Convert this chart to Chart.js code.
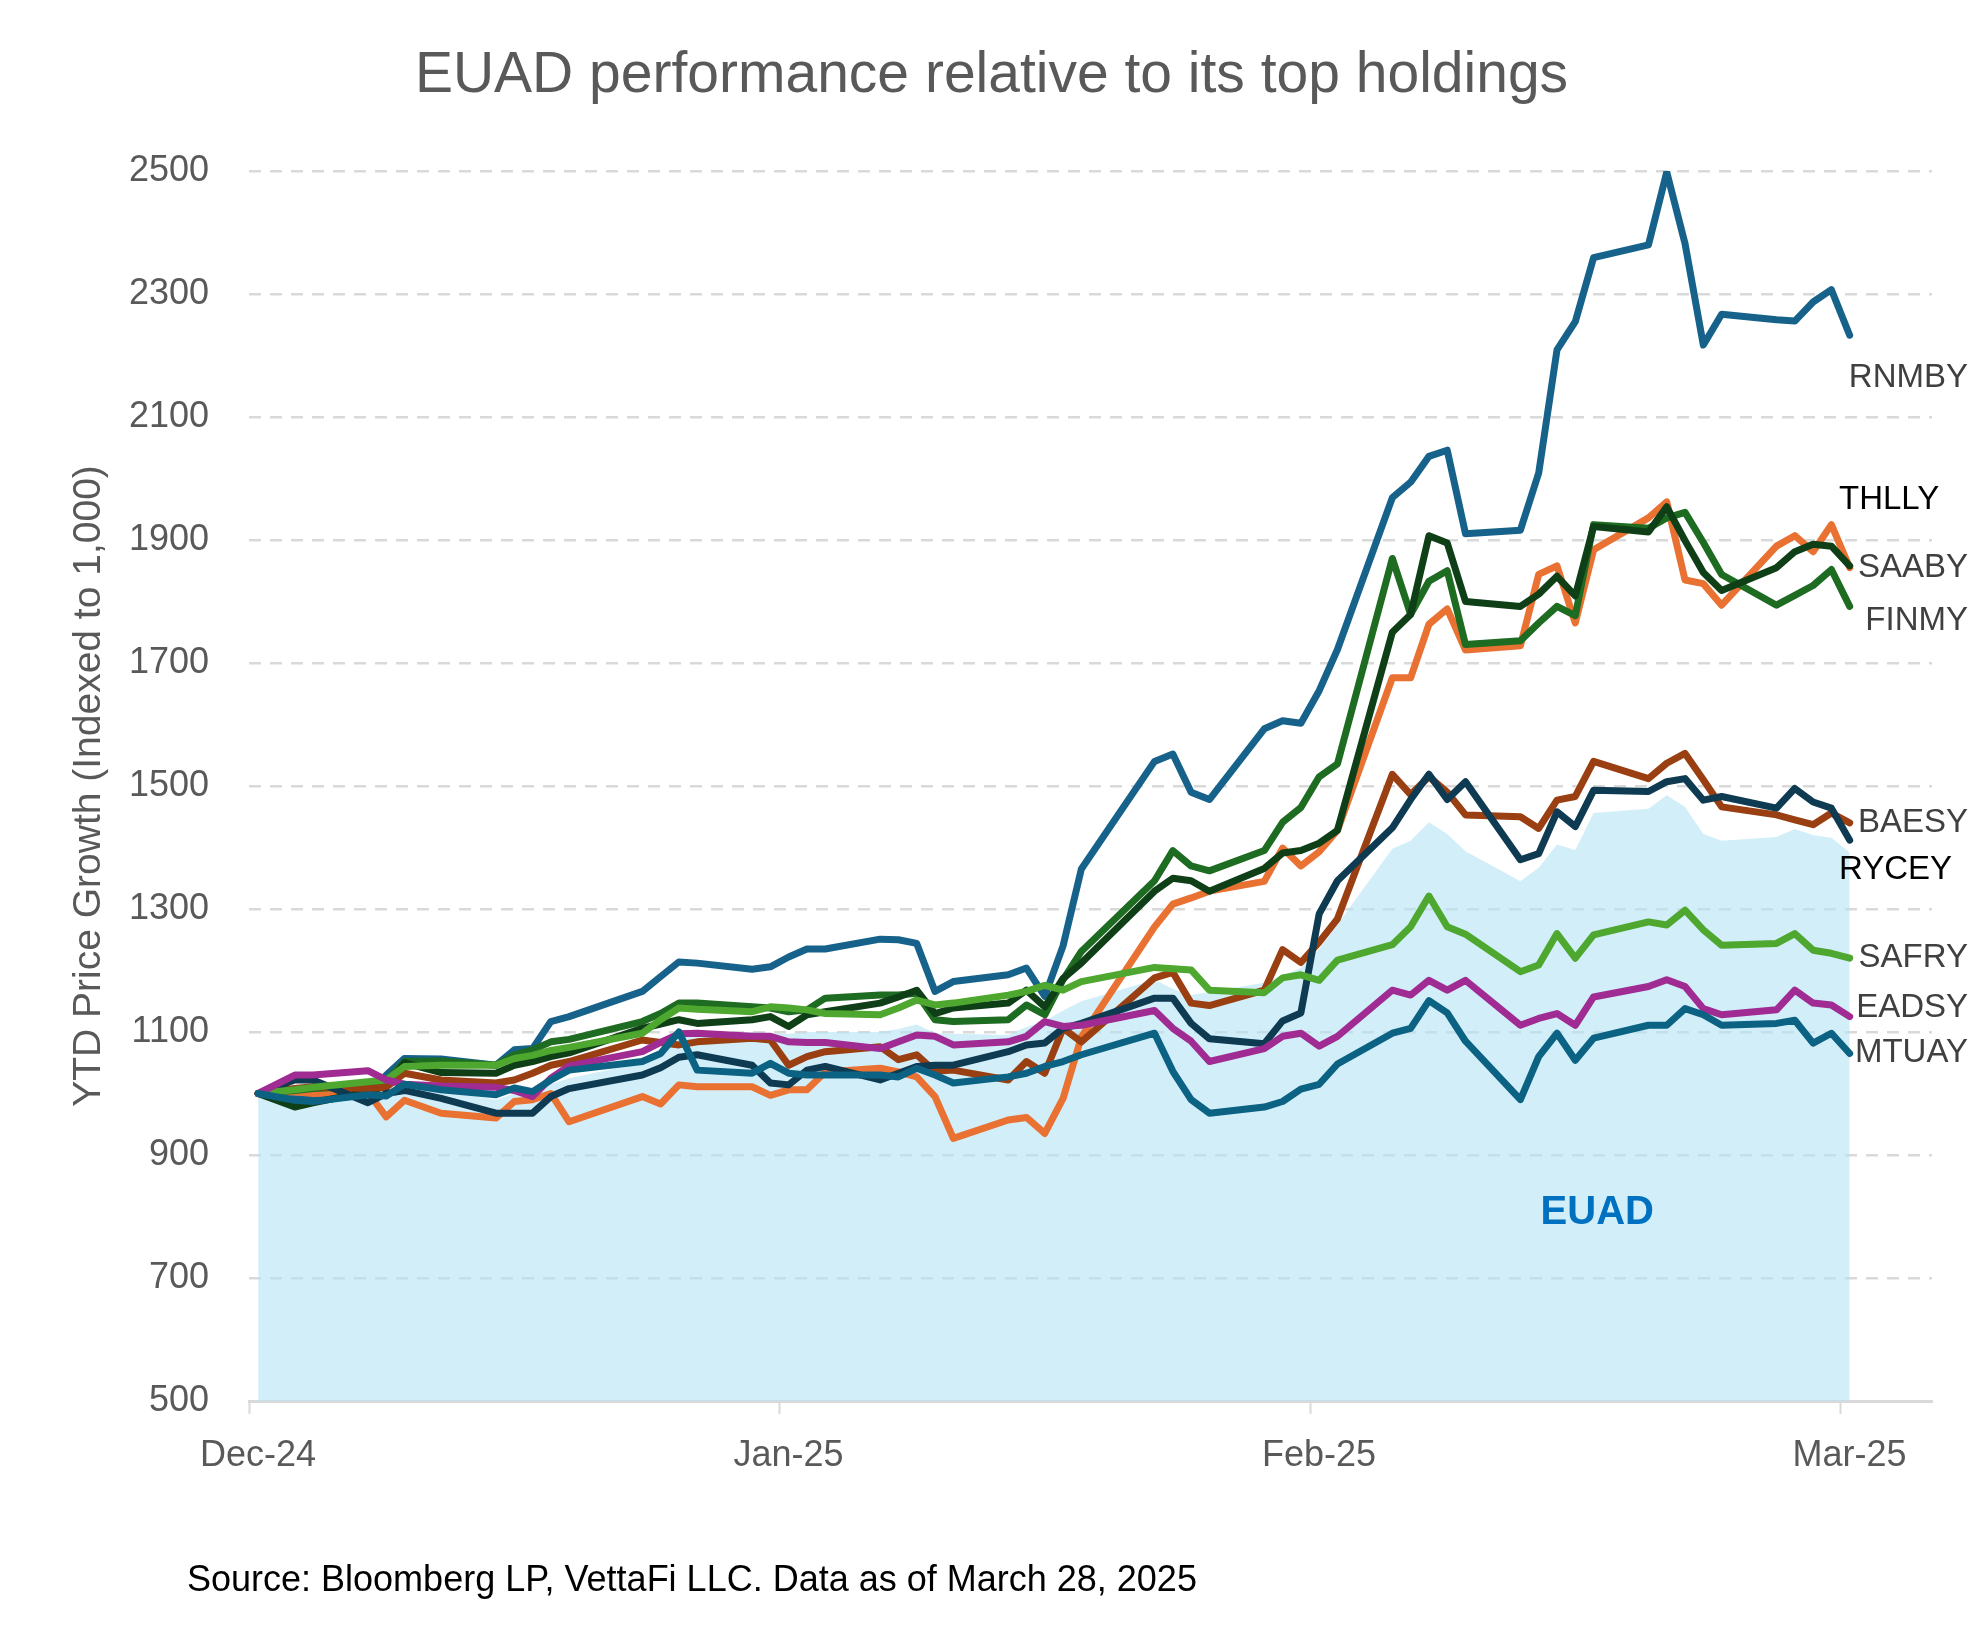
<!DOCTYPE html>
<html>
<head>
<meta charset="utf-8">
<title>EUAD performance relative to its top holdings</title>
<script src="https://cdn.jsdelivr.net/npm/chart.js@4.4.1/dist/chart.umd.min.js"></script>
<style>
  html, body { margin: 0; padding: 0; background: #fff; }
  #wrap { width: 1983px; height: 1650px; }
</style>
</head>
<body>
<div id="wrap"><canvas id="grafico" width="1983" height="1650"></canvas></div>
<script>
// Trading days (US), Dec 31 2024 -> Mar 28 2025
const dates = [
  '2024-12-31',
  '2025-01-02','2025-01-03','2025-01-06','2025-01-07','2025-01-08','2025-01-10','2025-01-13','2025-01-14',
  '2025-01-15','2025-01-16','2025-01-17','2025-01-21','2025-01-22','2025-01-23','2025-01-24','2025-01-27',
  '2025-01-28','2025-01-29','2025-01-30','2025-01-31',
  '2025-02-03','2025-02-04','2025-02-05','2025-02-06','2025-02-07','2025-02-10','2025-02-11','2025-02-12',
  '2025-02-13','2025-02-14','2025-02-18','2025-02-19','2025-02-20','2025-02-21','2025-02-24','2025-02-25',
  '2025-02-26','2025-02-27','2025-02-28',
  '2025-03-03','2025-03-04','2025-03-05','2025-03-06','2025-03-07','2025-03-10','2025-03-11','2025-03-12',
  '2025-03-13','2025-03-14','2025-03-17','2025-03-18','2025-03-19','2025-03-20','2025-03-21','2025-03-24',
  '2025-03-25','2025-03-26','2025-03-27','2025-03-28'
];

// x axis: labels every 29 days, axis runs a few days past the last point
const tickLabels = ['Dec-24', 'Jan-25', 'Feb-25', 'Mar-25'];
const tickDates = ['2024-12-31', '2025-01-29', '2025-02-27', '2025-03-28'];
const axisEndDate = '2025-04-01';

const yTicks = [500, 700, 900, 1100, 1300, 1500, 1700, 1900, 2100, 2300, 2500];

// values, indexed to 1,000
const EUAD  = [1000, 990, 992, 1000, 998, 1010, 1005, 990, 1000, 1005, 1015, 1025, 1050, 1065, 1090, 1095, 1100, 1098, 1097, 1100, 1100, 1100, 1105, 1112, 1098, 1097, 1095, 1108, 1118, 1135, 1150, 1185, 1170, 1160, 1165, 1180, 1192, 1204, 1235, 1275, 1398, 1411, 1441, 1422, 1394, 1345, 1367, 1405, 1396, 1456, 1463, 1485, 1466, 1422, 1411, 1417, 1430, 1420, 1416, 1392];
const RNMBY = [1000, 992, 990, 998, 1030, 1057, 1056, 1046, 1071, 1073, 1117, 1125, 1166, 1190, 1214, 1212, 1202, 1206, 1222, 1235, 1235, 1251, 1250, 1244, 1166, 1182, 1193, 1204, 1158, 1240, 1365, 1540, 1552, 1490, 1478, 1593, 1606, 1602, 1655, 1722, 1969, 1994, 2036, 2046, 1910, 1916, 2009, 2209, 2255, 2359, 2380, 2498, 2382, 2217, 2267, 2258, 2256, 2287, 2307, 2233];
const SAABY = [1000, 1003, 1000, 1002, 962, 989, 968, 960, 987, 990, 1000, 954, 995, 983, 1014, 1011, 1011, 997, 1006, 1006, 1035, 1041, 1035, 1027, 995, 927, 957, 961, 935, 992, 1092, 1271, 1308, 1318, 1329, 1345, 1399, 1370, 1393, 1428, 1676, 1676, 1763, 1788, 1721, 1728, 1844, 1858, 1765, 1884, 1936, 1962, 1835, 1829, 1794, 1890, 1907, 1881, 1925, 1855];
const FINMY = [1000, 1005, 1008, 1012, 1020, 1052, 1053, 1046, 1063, 1071, 1084, 1088, 1117, 1130, 1147, 1147, 1141, 1139, 1133, 1136, 1155, 1160, 1160, 1163, 1120, 1117, 1120, 1144, 1128, 1185, 1231, 1346, 1395, 1370, 1362, 1395, 1441, 1465, 1515, 1536, 1870, 1779, 1833, 1850, 1730, 1736, 1765, 1792, 1777, 1925, 1919, 1936, 1945, 1896, 1844, 1794, 1810, 1826, 1852, 1792];
const THLLY = [1000, 978, 985, 1003, 1012, 1050, 1034, 1033, 1046, 1052, 1060, 1066, 1106, 1113, 1120, 1114, 1120, 1125, 1109, 1128, 1133, 1147, 1157, 1168, 1130, 1139, 1147, 1168, 1141, 1187, 1212, 1329, 1350, 1346, 1329, 1366, 1391, 1395, 1407, 1428, 1750, 1779, 1907, 1895, 1800, 1792, 1812, 1841, 1809, 1922, 1913, 1954, 1899, 1847, 1818, 1855, 1881, 1893, 1890, 1858];
const BAESY = [1000, 1008, 1011, 1008, 1010, 1033, 1022, 1017, 1022, 1033, 1046, 1052, 1087, 1083, 1079, 1084, 1090, 1087, 1046, 1060, 1068, 1076, 1055, 1063, 1036, 1038, 1022, 1052, 1033, 1106, 1084, 1188, 1197, 1147, 1143, 1168, 1234, 1213, 1246, 1284, 1519, 1486, 1515, 1490, 1453, 1450, 1431, 1477, 1483, 1540, 1512, 1537, 1553, 1510, 1466, 1453, 1445, 1437, 1456, 1440];
const RYCEY = [1000, 1022, 1022, 985, 1000, 1005, 992, 968, 968, 968, 995, 1008, 1030, 1042, 1059, 1063, 1046, 1017, 1014, 1038, 1044, 1022, 1033, 1044, 1046, 1046, 1068, 1079, 1082, 1106, 1114, 1155, 1155, 1114, 1089, 1081, 1118, 1131, 1292, 1346, 1432, 1478, 1519, 1478, 1507, 1380, 1390, 1458, 1434, 1493, 1491, 1507, 1512, 1477, 1483, 1464, 1496, 1474, 1464, 1412];
const SAFRY = [1000, 1006, 1010, 1019, 1022, 1044, 1046, 1046, 1057, 1062, 1070, 1075, 1098, 1120, 1139, 1137, 1133, 1141, 1139, 1136, 1130, 1128, 1139, 1152, 1144, 1147, 1160, 1166, 1176, 1168, 1182, 1205, 1203, 1201, 1168, 1164, 1188, 1193, 1184, 1217, 1242, 1271, 1321, 1271, 1259, 1198, 1209, 1260, 1220, 1258, 1279, 1274, 1298, 1266, 1241, 1244, 1260, 1233, 1228, 1220];
const EADSY = [1000, 1030, 1030, 1037, 1022, 1015, 1012, 1010, 1005, 995, 1025, 1045, 1068, 1083, 1097, 1098, 1093, 1093, 1084, 1083, 1083, 1073, 1084, 1095, 1093, 1079, 1084, 1093, 1117, 1109, 1111, 1135, 1106, 1085, 1052, 1073, 1093, 1098, 1077, 1093, 1168, 1160, 1184, 1168, 1184, 1111, 1122, 1130, 1111, 1157, 1174, 1185, 1174, 1138, 1128, 1136, 1168, 1147, 1144, 1125];
const MTUAY = [1000, 989, 987, 998, 996, 1015, 1006, 998, 1009, 1003, 1022, 1038, 1052, 1065, 1100, 1038, 1033, 1049, 1033, 1030, 1030, 1030, 1027, 1041, 1030, 1017, 1027, 1033, 1044, 1052, 1063, 1098, 1036, 990, 968, 978, 987, 1007, 1015, 1048, 1098, 1106, 1151, 1131, 1085, 990, 1060, 1098, 1054, 1090, 1111, 1111, 1138, 1128, 1111, 1114, 1119, 1082, 1098, 1065];

// first in list = drawn on top
const linhas = [
  { nome: 'MTUAY', valores: MTUAY, cor: '#0b6283' },
  { nome: 'EADSY', valores: EADSY, cor: '#a02b93' },
  { nome: 'SAFRY', valores: SAFRY, cor: '#4ea72e' },
  { nome: 'RYCEY', valores: RYCEY, cor: '#0e3a52' },
  { nome: 'BAESY', valores: BAESY, cor: '#9a3f12' },
  { nome: 'THLLY', valores: THLLY, cor: '#0f3f17' },
  { nome: 'FINMY', valores: FINMY, cor: '#1e6b22' },
  { nome: 'SAABY', valores: SAABY, cor: '#e97132' },
  { nome: 'RNMBY', valores: RNMBY, cor: '#17628a' }
];

// end-of-line labels (value on y axis where the text sits)
const rotulos = [
  { nome: 'RNMBY', y: 2163, cor: '#404040', lado: 'right' },
  { nome: 'THLLY', y: 1965, cor: '#000000', lado: 'left' },
  { nome: 'SAABY', y: 1854, cor: '#404040', lado: 'right' },
  { nome: 'FINMY', y: 1768, cor: '#404040', lado: 'right' },
  { nome: 'BAESY', y: 1440, cor: '#404040', lado: 'right' },
  { nome: 'RYCEY', y: 1363, cor: '#000000', lado: 'left' },
  { nome: 'SAFRY', y: 1220, cor: '#404040', lado: 'right' },
  { nome: 'EADSY', y: 1139, cor: '#404040', lado: 'right' },
  { nome: 'MTUAY', y: 1066, cor: '#404040', lado: 'right' }
];

const FONTE = "'Liberation Sans', Arial, sans-serif";
const CINZA = '#595959';

const dia0 = Date.parse(dates[0]);
const diaDe = d => Math.round((Date.parse(d) - dia0) / 86400000);
const pontos = vals => dates.map((d, i) => ({ x: diaDe(d), y: vals[i] }));

const datasets = linhas.map(l => ({
  label: l.nome,
  data: pontos(l.valores),
  borderColor: l.cor,
  borderWidth: 7,
  borderCapStyle: 'round',
  borderJoinStyle: 'round',
  pointRadius: 0,
  tension: 0,
  fill: false
}));
// EUAD shaded area, drawn first (last in list)
datasets.push({
  label: 'EUAD',
  data: pontos(EUAD),
  borderWidth: 0,
  borderColor: 'rgba(0,0,0,0)',
  backgroundColor: 'rgba(178,227,245,0.6)',
  pointRadius: 0,
  tension: 0,
  fill: 'start'
});

const textos = {
  id: 'textos',
  afterDatasetsDraw(chart) {
    const { ctx, chartArea, scales } = chart;
    ctx.save();
    ctx.textBaseline = 'middle';
    ctx.font = '33px ' + FONTE;
    rotulos.forEach(r => {
      const y = scales.y.getPixelForValue(r.y);
      ctx.fillStyle = r.cor;
      if (r.lado === 'right') {
        ctx.textAlign = 'right';
        ctx.fillText(r.nome, chartArea.right + 36, y);
      } else {
        ctx.textAlign = 'left';
        ctx.fillText(r.nome, chartArea.right - 93, y);
      }
    });
    // EUAD label inside the area
    ctx.font = 'bold 40px ' + FONTE;
    ctx.fillStyle = '#0070c0';
    ctx.textAlign = 'center';
    ctx.fillText('EUAD', scales.x.getPixelForValue(73.2), scales.y.getPixelForValue(806));
    ctx.restore();
  },
  afterDraw(chart) {
    const ctx = chart.ctx;
    ctx.save();
    ctx.textBaseline = 'middle';
    // title, centred on the whole canvas
    ctx.font = '57px ' + FONTE;
    ctx.fillStyle = CINZA;
    ctx.textAlign = 'center';
    ctx.fillText('EUAD performance relative to its top holdings', chart.width / 2, 76);
    // source note
    ctx.font = '36px ' + FONTE;
    ctx.fillStyle = '#000000';
    ctx.textAlign = 'left';
    ctx.fillText('Source: Bloomberg LP, VettaFi LLC. Data as of March 28, 2025', 187, 1581);
    ctx.restore();
  }
};

Chart.defaults.font.family = FONTE;

new Chart(document.getElementById('grafico'), {
  type: 'line',
  data: { datasets },
  plugins: [textos],
  options: {
    responsive: false,
    animation: false,
    devicePixelRatio: 1,
    layout: { padding: { left: 0, right: 51, top: 171, bottom: 149 } },
    plugins: {
      legend: { display: false },
      tooltip: { enabled: false },
      title: { display: false }
    },
    scales: {
      x: {
        type: 'linear',
        min: -0.5,
        max: diaDe(axisEndDate) + 0.5,
        afterBuildTicks: s => { s.ticks = tickDates.map(d => ({ value: diaDe(d) - 0.5 })); },
        afterFit: s => { s.height = 100; },
        ticks: {
          autoSkip: false,
          maxRotation: 0,
          labelOffset: 9,
          padding: 20,
          color: CINZA,
          font: { size: 36 },
          callback: (v, i) => tickLabels[i]
        },
        grid: { drawOnChartArea: false, drawTicks: true, tickLength: 13, tickColor: '#d9d9d9', tickWidth: 2 },
        border: { display: true, color: '#d9d9d9', width: 3 }
      },
      y: {
        min: yTicks[0],
        max: yTicks[yTicks.length - 1],
        afterFit: s => { s.width = 249; },
        afterBuildTicks: s => { s.ticks = yTicks.map(v => ({ value: v })); },
        ticks: { padding: 40, color: CINZA, font: { size: 36 }, callback: v => String(v) },
        grid: { color: '#d9d9d9', lineWidth: 2.5, drawTicks: false },
        border: { display: false, dash: [12, 9] },
        title: {
          display: true,
          text: 'YTD Price Growth (Indexed to 1,000)',
          color: CINZA,
          font: { size: 39 },
          padding: { top: 66, bottom: 0 }
        }
      }
    }
  }
});
</script>
</body>
</html>
